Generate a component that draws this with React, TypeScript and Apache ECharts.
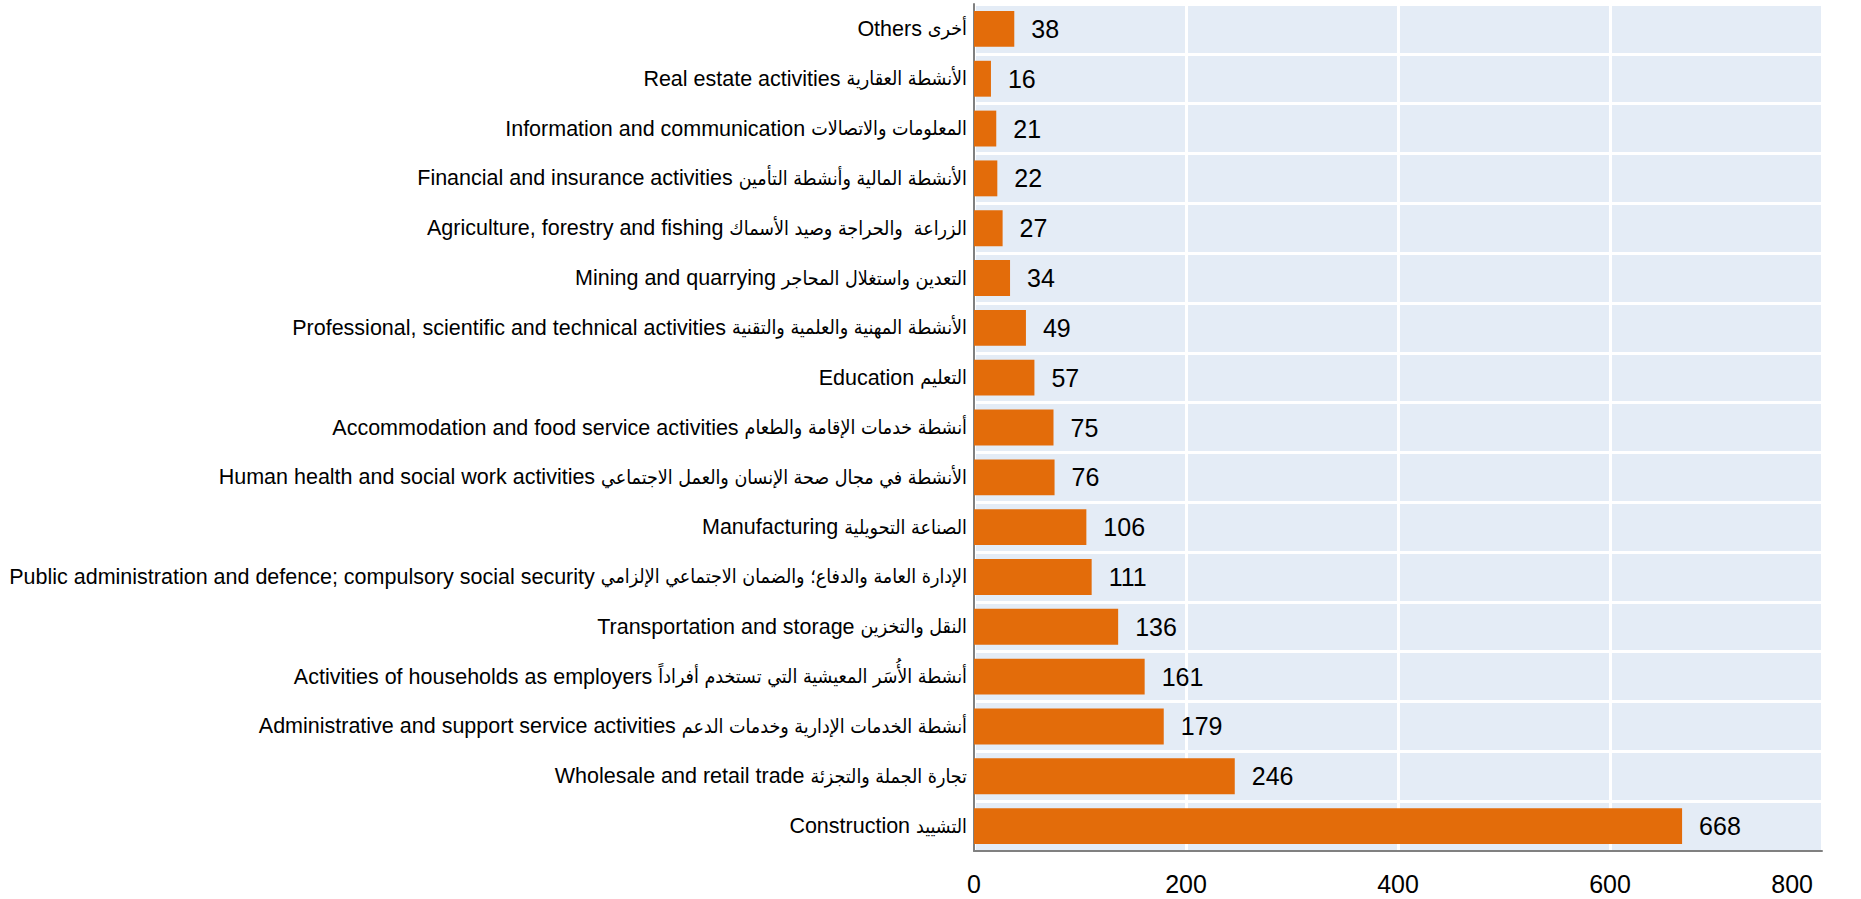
import React, { useEffect, useRef } from "react";
import * as echarts from "echarts";

// Bottom-to-top order (ECharts category axis starts at the bottom)
const englishNames = [
  "Construction",
  "Wholesale and retail trade",
  "Administrative and support service activities",
  "Activities of households as employers",
  "Transportation and storage",
  "Public administration and defence; compulsory social security",
  "Manufacturing",
  "Human health and social work activities",
  "Accommodation and food service activities",
  "Education",
  "Professional, scientific and technical activities",
  "Mining and quarrying",
  "Agriculture, forestry and fishing",
  "Financial and insurance activities",
  "Information and communication",
  "Real estate activities",
  "Others",
];

const arabicNames = [
  "التشييد",
  "تجارة الجملة والتجزئة",
  "أنشطة الخدمات الإدارية وخدمات الدعم",
  "أنشطة الأُسَر المعيشية التي تستخدم أفراداً",
  "النقل والتخزين",
  "الإدارة العامة والدفاع؛ والضمان الاجتماعي الإلزامي",
  "الصناعة التحويلية",
  "الأنشطة في مجال صحة الإنسان والعمل الاجتماعي",
  "أنشطة خدمات الإقامة والطعام",
  "التعليم",
  "الأنشطة المهنية والعلمية والتقنية",
  "التعدين واستغلال المحاجر",
  "الزراعة  والحراجة وصيد الأسماك",
  "الأنشطة المالية وأنشطة التأمين",
  "المعلومات والاتصالات",
  "الأنشطة العقارية",
  "أخرى",
];

const values = [668, 246, 179, 161, 136, 111, 106, 76, 75, 57, 49, 34, 27, 22, 21, 16, 38];

const axisMin = 0;
const axisMax = 800;
const axisStep = 200;

const categories = englishNames.map((en, i) => `${en} ${arabicNames[i]}`);

const FONT = "'Liberation Sans', Arial, sans-serif";
const AR_FONT = "'DejaVu Sans Condensed', 'DejaVu Sans', sans-serif";

export default function App() {
  const ref = useRef<HTMLDivElement>(null);

  useEffect(() => {
    if (!ref.current) return;
    const chart = echarts.init(ref.current, undefined, { renderer: "svg" });
    chart.setOption({
      animation: false,
      backgroundColor: "#ffffff",
      textStyle: { fontFamily: FONT },
      grid: {
        left: 974,
        right: 39,
        top: 4,
        bottom: 48,
        show: true,
        backgroundColor: "#E4ECF6",
        borderWidth: 0,
        containLabel: false,
      },
      xAxis: {
        type: "value",
        min: axisMin,
        max: axisMax,
        interval: axisStep,
        axisLine: { show: true, lineStyle: { color: "#808080", width: 2 } },
        axisTick: { show: false },
        splitLine: { show: true, lineStyle: { color: "#ffffff", width: 3 } },
        axisLabel: {
          color: "#000000",
          fontSize: 25,
          fontFamily: FONT,
          margin: 20,
          alignMaxLabel: "right",
          formatter: (v: number) => (v === axisMax ? `{m|${v}}` : `${v}`),
          rich: {
            m: {
              color: "#000000",
              fontSize: 25,
              fontFamily: FONT,
              padding: [0, 9, 0, 0],
            },
          },
        },
      },
      yAxis: {
        type: "category",
        data: categories,
        axisLine: { show: true, lineStyle: { color: "#808080", width: 2 } },
        axisTick: { show: false },
        splitLine: { show: true, lineStyle: { color: "#ffffff", width: 3 } },
        axisLabel: {
          color: "#000000",
          fontSize: 21.5,
          fontFamily: FONT,
          margin: 7,
          formatter: (_v: string, i: number) =>
            `{en|${englishNames[i]} }{ar|${arabicNames[i]}}`,
          rich: {
            en: { color: "#000000", fontSize: 21.5, fontFamily: FONT },
            ar: { color: "#000000", fontSize: 19.5, fontFamily: AR_FONT },
          },
        },
      },
      series: [
        {
          type: "bar",
          data: values,
          barCategoryGap: "28%",
          itemStyle: { color: "#E36C0A" },
          label: {
            show: true,
            position: "right",
            distance: 17,
            color: "#000000",
            fontSize: 25,
            fontFamily: FONT,
          },
        },
      ],
    });
    return () => chart.dispose();
  }, []);

  return (
    <div
      ref={ref}
      style={{ position: "fixed", left: 0, top: 0, width: 1861, height: 899 }}
    />
  );
}
